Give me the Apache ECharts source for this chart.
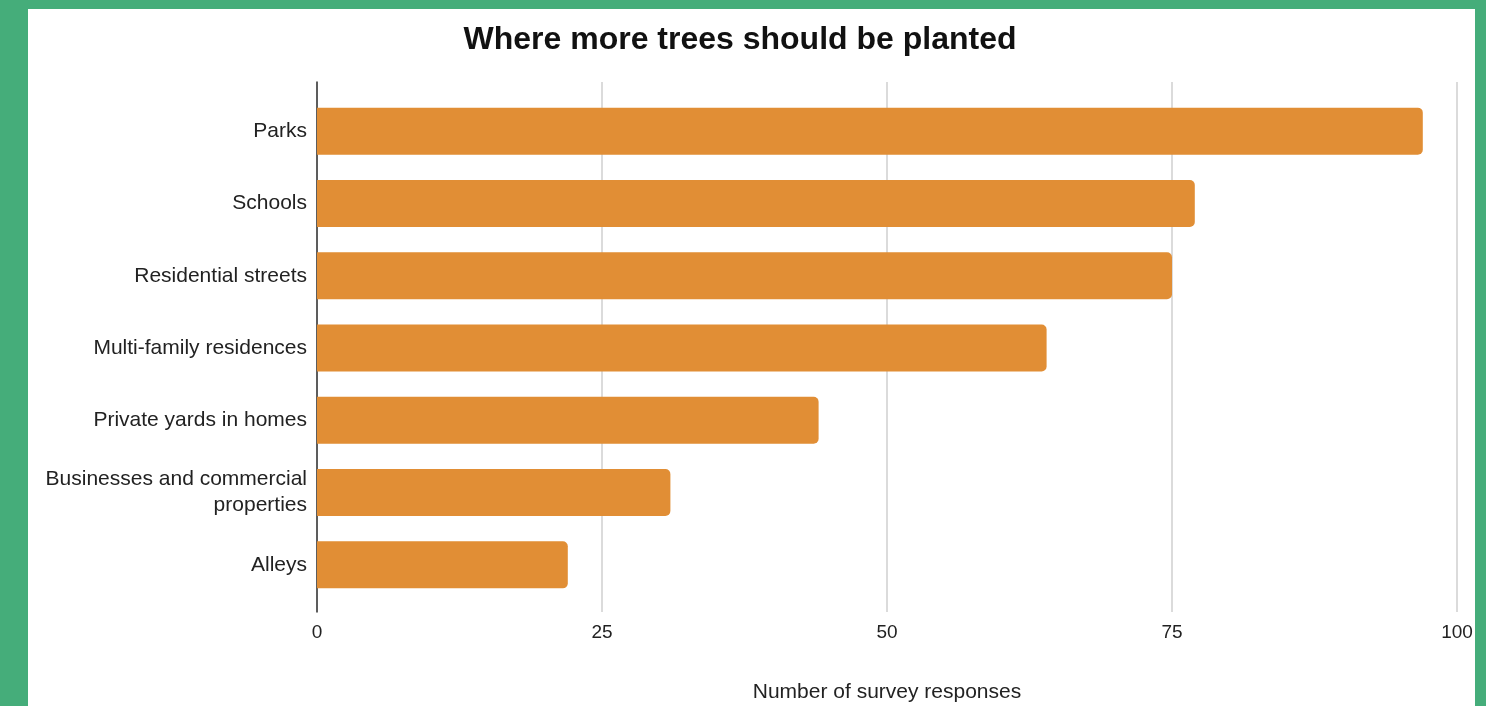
<!DOCTYPE html>
<html>
<head>
<meta charset="utf-8">
<script src="https://cdn.jsdelivr.net/npm/echarts@6/dist/echarts.min.js"></script>
<style>
html,body{margin:0;padding:0;width:1486px;height:706px;overflow:hidden;background:#45ad7a;}
#panel{position:absolute;left:28px;top:9px;width:1447px;height:697px;background:#fff;}
#chart{position:absolute;left:0;top:0;width:1486px;height:706px;}
</style>
</head>
<body>
<div id="panel"></div>
<div id="chart"></div>
<script>
const categories = ["Parks", "Schools", "Residential streets", "Multi-family residences", "Private yards in homes", "Businesses and commercial\nproperties", "Alleys"];
const responses = [97, 77, 75, 64, 44, 31, 22];
const xTicks = [0, 25, 50, 75, 100];

const font = 'Liberation Sans, Arial, sans-serif';
const chart = echarts.init(document.getElementById('chart'));
chart.setOption({
  backgroundColor: 'transparent',
  animation: false,
  textStyle: { fontFamily: font },
  title: {
    text: 'Where more trees should be planted',
    left: 735, textAlign: 'center',
    top: 19,
    textStyle: { fontSize: 32, fontWeight: 'bold', color: '#111', fontFamily: font }
  },
  grid: [
    { left: 317, right: 29, top: 95, bottom: 105, containLabel: false, outerBoundsMode: 'none' },
    { left: 317, right: 29, top: 82, bottom: 94, containLabel: false, outerBoundsMode: 'none' }
  ],
  xAxis: [
    {
      gridIndex: 0, type: 'value', min: 0, max: 100, interval: 25,
      axisLine: { show: false }, axisTick: { show: false },
      axisLabel: { show: false }, splitLine: { show: false }
    },
    {
      gridIndex: 1, type: 'value', min: 0, max: 100, interval: 25,
      name: 'Number of survey responses',
      nameLocation: 'middle',
      nameGap: 70,
      nameTextStyle: { fontSize: 21, color: '#222' },
      axisLine: { show: false },
      axisTick: { show: false },
      axisLabel: { fontSize: 19, color: '#222', margin: 11,
        formatter: v => xTicks.includes(v) ? String(v) : '' },
      splitLine: { show: true, lineStyle: { color: '#cfcfcf', width: 1.5 } }
    }
  ],
  yAxis: [
    {
      gridIndex: 0, type: 'category', data: categories, inverse: true,
      axisLine: { show: false },
      axisTick: { show: false },
      axisLabel: { fontSize: 21, color: '#222', margin: 10, lineHeight: 26, align: 'right' }
    },
    {
      gridIndex: 1, type: 'category', data: categories, inverse: true,
      axisLine: { show: true, lineStyle: { color: '#333', width: 1.5 } },
      axisTick: { show: false }, axisLabel: { show: false }, splitLine: { show: false }
    }
  ],
  series: [{
    type: 'bar',
    xAxisIndex: 0, yAxisIndex: 0,
    data: responses,
    barWidth: '65%',
    z: 3,
    itemStyle: { color: '#e18e35', borderRadius: [0, 5, 5, 0] }
  }]
});
</script>
</body>
</html>
